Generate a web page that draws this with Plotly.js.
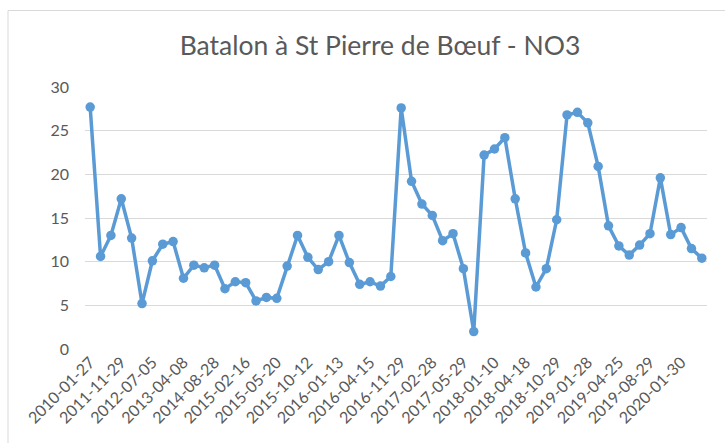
<!DOCTYPE html>
<html>
<head>
<meta charset="utf-8">
<script src="https://cdn.plot.ly/plotly-3.0.1.min.js"></script>
<style>html,body{margin:0;padding:0;background:#fff;}#chart{width:725px;height:443px;}</style>
</head>
<body>
<div id="chart"></div>
<script>
// Values (60 samples, NO3)
var no3Values = [
  27.7, 10.6, 13.0, 17.2, 12.7, 5.2, 10.1, 12.0, 12.3, 8.1,
  9.6, 9.3, 9.6, 6.9, 7.7, 7.6, 5.5, 5.9, 5.8, 9.5,
  13.0, 10.5, 9.1, 10.0, 13.0, 9.9, 7.4, 7.7, 7.2, 8.3,
  27.6, 19.2, 16.6, 15.3, 12.4, 13.2, 9.2, 2.0, 22.2, 22.9,
  24.2, 17.2, 11.0, 7.1, 9.2, 14.8, 26.8, 27.1, 25.9, 20.9,
  14.1, 11.8, 10.75, 11.9, 13.2, 19.6, 13.1, 13.9, 11.5, 10.4
];
// Visible date labels (every third sample)
var tickLabels = [
  "2010-01-27", "2011-11-29", "2012-07-05", "2013-04-08", "2014-08-28",
  "2015-02-16", "2015-05-20", "2015-10-12", "2016-01-13", "2016-04-15",
  "2016-11-29", "2017-02-28", "2017-05-29", "2018-01-10", "2018-04-18",
  "2018-10-29", "2019-01-28", "2019-04-25", "2019-08-29", "2020-01-30"
];
var labelStep = 3;
var titleText = "Batalon à St Pierre de Bœuf - NO3";

var xIdx = no3Values.map(function (v, i) { return i; });
var tickVals = tickLabels.map(function (t, i) { return i * labelStep; });

var gray = "#595959";
var font = "Lato, 'Open Sans', sans-serif";

// plot-area geometry in pixels (used only for the outer chart border)
var L = 85, R = 18, T = 87, B = 94, W = 725, H = 443;
var pw = W - L - R, ph = H - T - B;
function px2x(p) { return (p - L) / pw; }
function py2y(p) { return (H - B - p) / ph; }

var trace = {
  x: xIdx,
  y: no3Values,
  type: "scatter",
  mode: "lines+markers",
  line: { color: "#5B9BD5", width: 3.5 },
  marker: { color: "#5B9BD5", size: 9.5 },
  hoverinfo: "y"
};

var layout = {
  width: W, height: H,
  margin: { l: L, r: R, t: T, b: B },
  paper_bgcolor: "#fff",
  plot_bgcolor: "#fff",
  showlegend: false,
  title: {
    text: titleText,
    font: { family: font, size: 26.5, color: gray },
    x: 380 / W, xref: "container", xanchor: "center",
    y: 1 - 46 / H, yref: "container", yanchor: "middle"
  },
  xaxis: {
    range: [-0.5, no3Values.length - 0.5],
    tickvals: tickVals,
    ticktext: tickLabels,
    tickangle: -45,
    tickfont: { family: font, size: 16, color: gray },
    showgrid: false,
    zeroline: false,
    showline: false,
    ticks: ""
  },
  yaxis: {
    range: [0, 30],
    dtick: 5,
    tick0: 0,
    tickfont: { family: font, size: 16, color: gray },
    gridcolor: "#d9d9d9",
    gridwidth: 1,
    zeroline: false,
    showline: false,
    ticks: "",
    ticklabelstandoff: 15
  },
  shapes: [
    {
      type: "rect", xref: "paper", yref: "paper",
      x0: px2x(8), x1: px2x(740), y0: py2y(460), y1: py2y(10.5),
      line: { color: "#d9d9d9", width: 1 },
      fillcolor: "rgba(0,0,0,0)",
      layer: "below"
    }
  ]
};

Plotly.newPlot("chart", [trace], layout, { displayModeBar: false, staticPlot: true });
</script>
</body>
</html>
